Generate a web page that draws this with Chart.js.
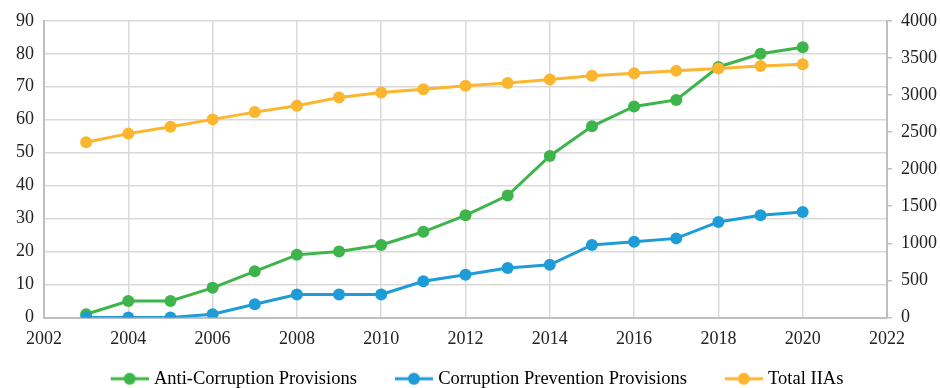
<!DOCTYPE html>
<html>
<head>
<meta charset="utf-8">
<script src="https://cdn.jsdelivr.net/npm/chart.js@4.4.1/dist/chart.umd.min.js"></script>
<style>
  html, body { margin: 0; padding: 0; background: #fff; }
  #wrap { width: 940px; height: 388px; position: relative; }
</style>
</head>
<body>
<div id="wrap"><canvas id="chart"></canvas></div>
<script>
const years = [2003, 2004, 2005, 2006, 2007, 2008, 2009, 2010, 2011, 2012, 2013, 2014, 2015, 2016, 2017, 2018, 2019, 2020];
const antiCorruption = [1, 5, 5, 9, 14, 19, 20, 22, 26, 31, 37, 49, 58, 64, 66, 76, 80, 82];
const corruptionPrevention = [0, 0, 0, 1, 4, 7, 7, 7, 11, 13, 15, 16, 22, 23, 24, 29, 31, 32];
const totalIIAs = [2362, 2479, 2573, 2671, 2769, 2855, 2966, 3034, 3078, 3123, 3163, 3208, 3258, 3293, 3325, 3356, 3392, 3414];

const seriesNames = ['Anti-Corruption Provisions', 'Corruption Prevention Provisions', 'Total IIAs'];
const seriesColors = ['#3DB54A', '#1E9CD8', '#FCB52F'];

const FONT = 'Liberation Serif, Times New Roman, serif';

function toPoints(vals) {
  return vals.map((v, i) => ({ x: years[i], y: v }));
}

// "line with dot" swatch for the legend; left part is blank to space the items
function legendSwatch(color) {
  const c = document.createElement('canvas');
  c.width = 70; c.height = 14;
  const g = c.getContext('2d');
  g.strokeStyle = color;
  g.lineWidth = 3;
  g.beginPath();
  g.moveTo(32, 7);
  g.lineTo(70, 7);
  g.stroke();
  g.fillStyle = color;
  g.beginPath();
  g.arc(51, 7, 6, 0, Math.PI * 2);
  g.fill();
  return c;
}

function makeDataset(i, data, axis, order) {
  return {
    label: seriesNames[i],
    data: toPoints(data),
    yAxisID: axis,
    borderColor: seriesColors[i],
    backgroundColor: seriesColors[i],
    borderWidth: 3,
    pointRadius: 6,
    pointHoverRadius: 6,
    pointBorderWidth: 0,
    tension: 0,
    order: order
  };
}

// the blank lead-in of the first swatch pushes the legend right, pull it back
const legendNudge = {
  id: 'legendNudge',
  afterLayout(chart) {
    if (chart.legend) chart.legend.left -= 14;
  }
};

const ctx = document.getElementById('chart').getContext('2d');

new Chart(ctx, {
  type: 'line',
  data: {
    datasets: [
      makeDataset(0, antiCorruption, 'y', 3),
      makeDataset(1, corruptionPrevention, 'y', 2),
      makeDataset(2, totalIIAs, 'y2', 1)
    ]
  },
  options: {
    responsive: true,
    maintainAspectRatio: false,
    animation: false,
    layout: { padding: { top: 10, left: 0, right: 0, bottom: -10 } },
    plugins: {
      tooltip: { enabled: false },
      legend: {
        position: 'bottom',
        labels: {
          font: { family: FONT, size: 18.5 },
          color: '#222',
          usePointStyle: true,
          pointStyleWidth: 62,
          padding: 10,
          generateLabels: (chart) => chart.data.datasets.map((ds, i) => ({
            text: ds.label,
            fillStyle: ds.borderColor,
            strokeStyle: ds.borderColor,
            lineWidth: 0,
            pointStyle: legendSwatch(ds.borderColor),
            datasetIndex: i,
            hidden: false
          }))
        }
      }
    },
    scales: {
      x: {
        type: 'linear',
        min: 2002,
        max: 2022,
        ticks: {
          stepSize: 2,
          font: { family: FONT, size: 18 },
          color: '#222',
          padding: 11,
          callback: (v) => String(v)
        },
        grid: { color: '#D9D9D9', lineWidth: 1.5, drawTicks: false },
        border: { color: '#BFBFBF', width: 2 },
        afterFit: (s) => { s.height = 42; }
      },
      y: {
        position: 'left',
        min: 0,
        max: 90,
        ticks: {
          stepSize: 10,
          font: { family: FONT, size: 18 },
          color: '#222',
          padding: 10
        },
        grid: { color: '#D9D9D9', lineWidth: 1.5, drawTicks: false },
        border: { color: '#BFBFBF', width: 2 },
        afterFit: (s) => { s.width = 44; }
      },
      y2: {
        position: 'right',
        min: 0,
        max: 4000,
        ticks: {
          stepSize: 500,
          font: { family: FONT, size: 18 },
          color: '#222',
          padding: 9,
          callback: (v) => String(v)
        },
        grid: { drawOnChartArea: false, color: '#BFBFBF', tickLength: 5, lineWidth: 1.5 },
        border: { color: '#BFBFBF', width: 2 },
        afterFit: (s) => { s.width = 53; }
      }
    }
  },
  plugins: [legendNudge]
});
</script>
</body>
</html>
